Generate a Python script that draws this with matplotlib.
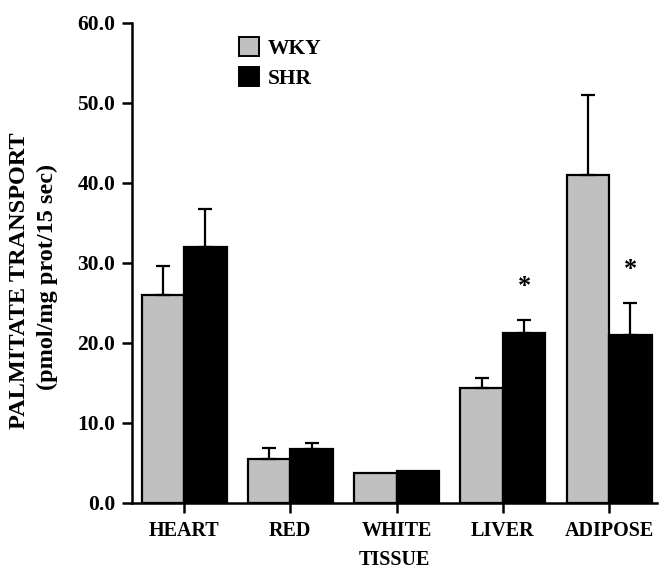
import matplotlib
matplotlib.use("Agg")
import matplotlib.pyplot as plt
import numpy as np
from matplotlib.patches import Patch

plt.rcParams['font.family'] = ['Liberation Serif', 'DejaVu Serif']
plt.rcParams['font.weight'] = 'bold'

categories = ["HEART", "RED", "WHITE", "LIVER", "ADIPOSE"]
series_names = ["WKY", "SHR"]
wky_values = [26.0, 5.5, 3.75, 14.4, 41.0]
wky_err = [3.6, 1.4, 0.0, 1.2, 10.0]
shr_values = [32.0, 6.75, 4.0, 21.25, 21.0]
shr_err = [4.75, 0.75, 0.0, 1.65, 4.0]
shr_significant = [False, False, False, True, True]
yticks = [0.0, 10.0, 20.0, 30.0, 40.0, 50.0, 60.0]
ytick_labels = ["0.0", "10.0", "20.0", "30.0", "40.0", "50.0", "60.0"]

gray = "#c0c0c0"
W, H = 660, 569
fig = plt.figure(figsize=(W / 100, H / 100), dpi=100)
ax = fig.add_axes([132 / W, 1 - 503 / H, (657 - 132) / W, (503 - 23) / H])

x = np.arange(len(categories))
bw = 0.4
ax.bar(x - bw / 2, wky_values, bw, color=gray, edgecolor="black", linewidth=1.6, zorder=2)
ax.bar(x + bw / 2, shr_values, bw, color="black", edgecolor="black", linewidth=1.6, zorder=2)

for xs, vals, errs in [(x - bw / 2, wky_values, wky_err), (x + bw / 2, shr_values, shr_err)]:
    for xi, v, e in zip(xs, vals, errs):
        if e > 0:
            ax.errorbar([xi], [v], yerr=[[0], [e]], fmt="none", ecolor="black",
                        elinewidth=1.6, capsize=4.7, capthick=1.6, zorder=3)

for xi, v, e, s in zip(x + bw / 2, shr_values, shr_err, shr_significant):
    if s:
        ax.text(xi, v + e + 3.4, "*", ha="center", va="baseline",
                fontsize=19, fontweight="bold")

ax.set_xlim(-0.49, 4.45)
ax.set_ylim(0, 60)
ax.set_yticks(yticks)
ax.set_yticklabels(ytick_labels)
ax.set_xticks(x)
ax.set_xticklabels(categories)
for sp in ["top", "right"]:
    ax.spines[sp].set_visible(False)
for sp in ["left", "bottom"]:
    ax.spines[sp].set_linewidth(1.8)
ax.tick_params(axis="both", direction="out", length=7, width=1.8)
ax.tick_params(axis="y", labelsize=15.5, pad=5)
ax.tick_params(axis="x", labelsize=14.5, pad=6)
for lab in ax.get_xticklabels() + ax.get_yticklabels():
    lab.set_fontweight("bold")

ax.set_xlabel("TISSUE", fontsize=14.5, fontweight="bold", labelpad=6.5)

fig.text(20 / W, 1 - 281 / H, "PALMITATE TRANSPORT", rotation=90, ha="center",
         va="center", fontsize=17.5, fontweight="bold")
fig.text(47 / W, 1 - 277 / H, "(pmol/mg prot/15 sec)", rotation=90, ha="center",
         va="center", fontsize=17.5, fontweight="bold")

handles = [Patch(facecolor=gray, edgecolor="black", linewidth=1.4, label=series_names[0]),
           Patch(facecolor="black", edgecolor="black", linewidth=1.4, label=series_names[1])]
leg = fig.legend(handles=handles, loc="upper left", bbox_to_anchor=(239 / W, 1 - 37 / H),
                 frameon=False, handlelength=0.95, handleheight=1.0,
                 handletextpad=0.4, labelspacing=0.38, borderpad=0, borderaxespad=0,
                 prop={"weight": "bold", "size": 15.5})

fig.savefig("out.png", dpi=100)
